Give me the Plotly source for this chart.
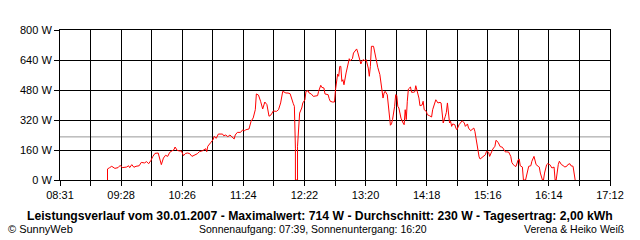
import plotly.graph_objects as go

# ---- data ----
times = ["09:16", "09:16", "09:18", "09:20", "09:23", "09:26", "09:28", "09:30", "09:34", "09:36",
         "09:37", "09:39", "09:41", "09:43", "09:46", "09:48", "09:51", "09:53", "09:55", "09:57",
         "09:59", "10:01", "10:04", "10:05", "10:07", "10:09", "10:11", "10:13", "10:15", "10:17",
         "10:19", "10:20", "10:22", "10:24", "10:26", "10:28", "10:30", "10:32", "10:34", "10:36",
         "10:38", "10:41", "10:43", "10:46", "10:49", "10:50", "10:51", "10:53", "10:54", "10:56",
         "10:57", "10:59", "11:01", "11:05", "11:06", "11:08", "11:10", "11:12", "11:14", "11:16",
         "11:17", "11:19", "11:22", "11:24", "11:26", "11:27", "11:30", "11:32", "11:34", "11:36",
         "11:37", "11:39", "11:41", "11:43", "11:45", "11:47", "11:49", "11:51", "11:53", "11:56",
         "11:58", "12:00", "12:02", "12:05", "12:07", "12:09", "12:12", "12:13", "12:14", "12:14",
         "12:16", "12:16", "12:18", "12:20", "12:21", "12:23", "12:24", "12:26", "12:27", "12:29",
         "12:31", "12:33", "12:35", "12:36", "12:38", "12:39", "12:41", "12:42", "12:45", "12:46",
         "12:47", "12:49", "12:51", "12:52", "12:53", "12:54", "12:55", "12:56", "12:57", "12:58",
         "12:59", "13:00", "13:02", "13:03", "13:04", "13:05", "13:06", "13:08", "13:09", "13:10",
         "13:12", "13:13", "13:15", "13:16", "13:17", "13:18", "13:20", "13:21", "13:23", "13:24",
         "13:25", "13:26", "13:28", "13:29", "13:30", "13:31", "13:32", "13:34", "13:35", "13:36",
         "13:37", "13:38", "13:39", "13:41", "13:42", "13:43", "13:44", "13:45", "13:46", "13:48",
         "13:49", "13:50", "13:51", "13:52", "13:53", "13:54", "13:56", "13:57", "13:58", "13:59",
         "14:00", "14:01", "14:03", "14:04", "14:06", "14:07", "14:08", "14:09", "14:11", "14:12",
         "14:14", "14:15", "14:16", "14:18", "14:19", "14:21", "14:23", "14:24", "14:26", "14:27",
         "14:29", "14:31", "14:32", "14:33", "14:34", "14:36", "14:37", "14:38", "14:39", "14:40",
         "14:41", "14:42", "14:43", "14:45", "14:46", "14:47", "14:49", "14:50", "14:52", "14:54",
         "14:55", "14:57", "14:58", "15:00", "15:02", "15:03", "15:04", "15:05", "15:06", "15:07",
         "15:08", "15:09", "15:11", "15:13", "15:14", "15:15", "15:17", "15:18", "15:20", "15:21",
         "15:23", "15:24", "15:26", "15:27", "15:28", "15:30", "15:31", "15:33", "15:34", "15:36",
         "15:38", "15:39", "15:40", "15:42", "15:43", "15:45", "15:46", "15:47", "15:49", "15:50",
         "15:52", "15:53", "15:55", "15:57", "15:58", "16:00", "16:01", "16:02", "16:04", "16:05",
         "16:06", "16:08", "16:09", "16:10", "16:12", "16:13", "16:15", "16:16", "16:17", "16:19",
         "16:20", "16:21", "16:22", "16:23", "16:24", "16:26", "16:28", "16:29", "16:31", "16:32",
         "16:34", "16:35", "16:37", "16:38", "16:39"]

power_w = [0, 59, 66, 73, 62, 66, 78, 66, 69, 76,
           66, 82, 68, 73, 76, 94, 91, 98, 87, 103,
           126, 142, 144, 126, 82, 117, 132, 126, 148, 155,
           162, 176, 158, 155, 155, 130, 142, 144, 140, 126,
           132, 140, 151, 156, 167, 151, 180, 197, 201, 215,
           233, 222, 245, 245, 236, 240, 231, 240, 231, 219,
           240, 254, 254, 267, 263, 268, 272, 313, 331, 375,
           459, 453, 420, 379, 416, 402, 340, 348, 368, 366,
           375, 411, 473, 464, 464, 460, 407, 393, 170, 0,
           0, 180, 357, 384, 411, 428, 473, 476, 464, 459,
           446, 450, 450, 473, 505, 494, 491, 459, 455, 434,
           420, 416, 416, 482, 544, 565, 553, 606, 606, 526,
           535, 508, 571, 597, 624, 647, 636, 647, 677, 686,
           699, 682, 633, 619, 633, 642, 636, 642, 597, 553,
           606, 713, 713, 686, 651, 615, 601, 562, 508, 455,
           437, 464, 473, 455, 393, 331, 292, 299, 322, 393,
           455, 451, 393, 384, 360, 330, 304, 295, 375, 322,
           420, 485, 496, 468, 468, 470, 503, 482, 437, 396,
           400, 420, 375, 366, 348, 343, 336, 375, 420, 428,
           411, 414, 411, 348, 304, 340, 361, 411, 357, 304,
           313, 286, 299, 295, 277, 268, 295, 304, 316, 304,
           286, 299, 277, 263, 272, 277, 260, 224, 180, 153,
           123, 112, 123, 130, 135, 153, 148, 126, 153, 165,
           180, 212, 201, 183, 178, 175, 168, 149, 150, 149,
           126, 94, 85, 73, 73, 108, 112, 76, 69, 0,
           0, 28, 73, 76, 100, 126, 108, 82, 73, 69,
           37, 0, 0, 37, 82, 87, 82, 73, 64, 69,
           0, 0, 55, 82, 100, 82, 76, 69, 73, 82,
           87, 76, 73, 34, 0]

average_w = 230
x_start, x_end = "08:31", "17:12"
x_tick_labels = ["08:31", "09:28", "10:26", "11:24", "12:22", "13:20", "14:18", "15:16", "16:14", "17:12"]
y_ticks = [0, 160, 320, 480, 640, 800]
y_tick_labels = ["0 W", "160 W", "320 W", "480 W", "640 W", "800 W"]

title_text = ("Leistungsverlauf vom 30.01.2007 - Maximalwert: 714 W - Durchschnitt: 230 W - "
              "Tagesertrag: 2,00 kWh")
footer_left = "© SunnyWeb"
footer_mid = "Sonnenaufgang: 07:39, Sonnenuntergang: 16:20"
footer_right = "Verena & Heiko Weiß"


def to_min(s):
    h, m = s.split(":")
    return int(h) * 60 + int(m)


t = [to_min(s) for s in times]
x0, x1 = to_min(x_start), to_min(x_end)
n_int = 2 * (len(x_tick_labels) - 1)
grid_vals = [x0 + k * (x1 - x0) / n_int for k in range(n_int + 1)]
grid_text = []
for k in range(n_int + 1):
    grid_text.append(x_tick_labels[k // 2] if k % 2 == 0 else "")

FONT = "Liberation Sans, Arial, sans-serif"

fig = go.Figure()
fig.add_trace(go.Scatter(x=t, y=power_w, mode="lines",
                         line=dict(color="#ff0000", width=1),
                         hoverinfo="skip", cliponaxis=True))

fig.add_shape(type="line", xref="paper", x0=0, x1=1, yref="y", y0=average_w, y1=average_w,
              line=dict(color="#999999", width=1), layer="below")

axis_common = dict(showgrid=True, gridcolor="#000000", gridwidth=1,
                   showline=True, linecolor="#000000", linewidth=1, mirror=True,
                   ticks="outside", ticklen=5, tickwidth=1, tickcolor="#000000",
                   zeroline=False, tickfont=dict(family=FONT, size=11, color="#000000"))

fig.update_layout(
    width=640, height=240,
    margin=dict(l=60, r=30, t=30, b=60),
    paper_bgcolor="#ffffff", plot_bgcolor="#ffffff",
    showlegend=False,
    xaxis=dict(range=[x0, x1], tickmode="array", tickvals=grid_vals, ticktext=grid_text,
               **axis_common),
    yaxis=dict(range=[0, 800], tickmode="array", tickvals=y_ticks, ticktext=y_tick_labels,
               **axis_common),
    annotations=[
        dict(text="<b>" + title_text + "</b>", xref="paper", yref="paper",
             x=(320 - 60) / 550, y=(180 - 215.5) / 150, xanchor="center", yanchor="middle",
             showarrow=False, font=dict(family=FONT, size=12.2, color="#000000")),
        dict(text=footer_left, xref="paper", yref="paper",
             x=(6 - 60) / 550, y=(180 - 229) / 150, xanchor="left", yanchor="middle",
             showarrow=False, font=dict(family=FONT, size=11, color="#000000")),
        dict(text=footer_mid, xref="paper", yref="paper",
             x=(313 - 60) / 550, y=(180 - 229) / 150, xanchor="center", yanchor="middle",
             showarrow=False, font=dict(family=FONT, size=10.5, color="#000000")),
        dict(text=footer_right, xref="paper", yref="paper",
             x=(626 - 60) / 550, y=(180 - 229) / 150, xanchor="right", yanchor="middle",
             showarrow=False, font=dict(family=FONT, size=10.5, color="#000000")),
    ],
)

fig.write_html("out.html")
